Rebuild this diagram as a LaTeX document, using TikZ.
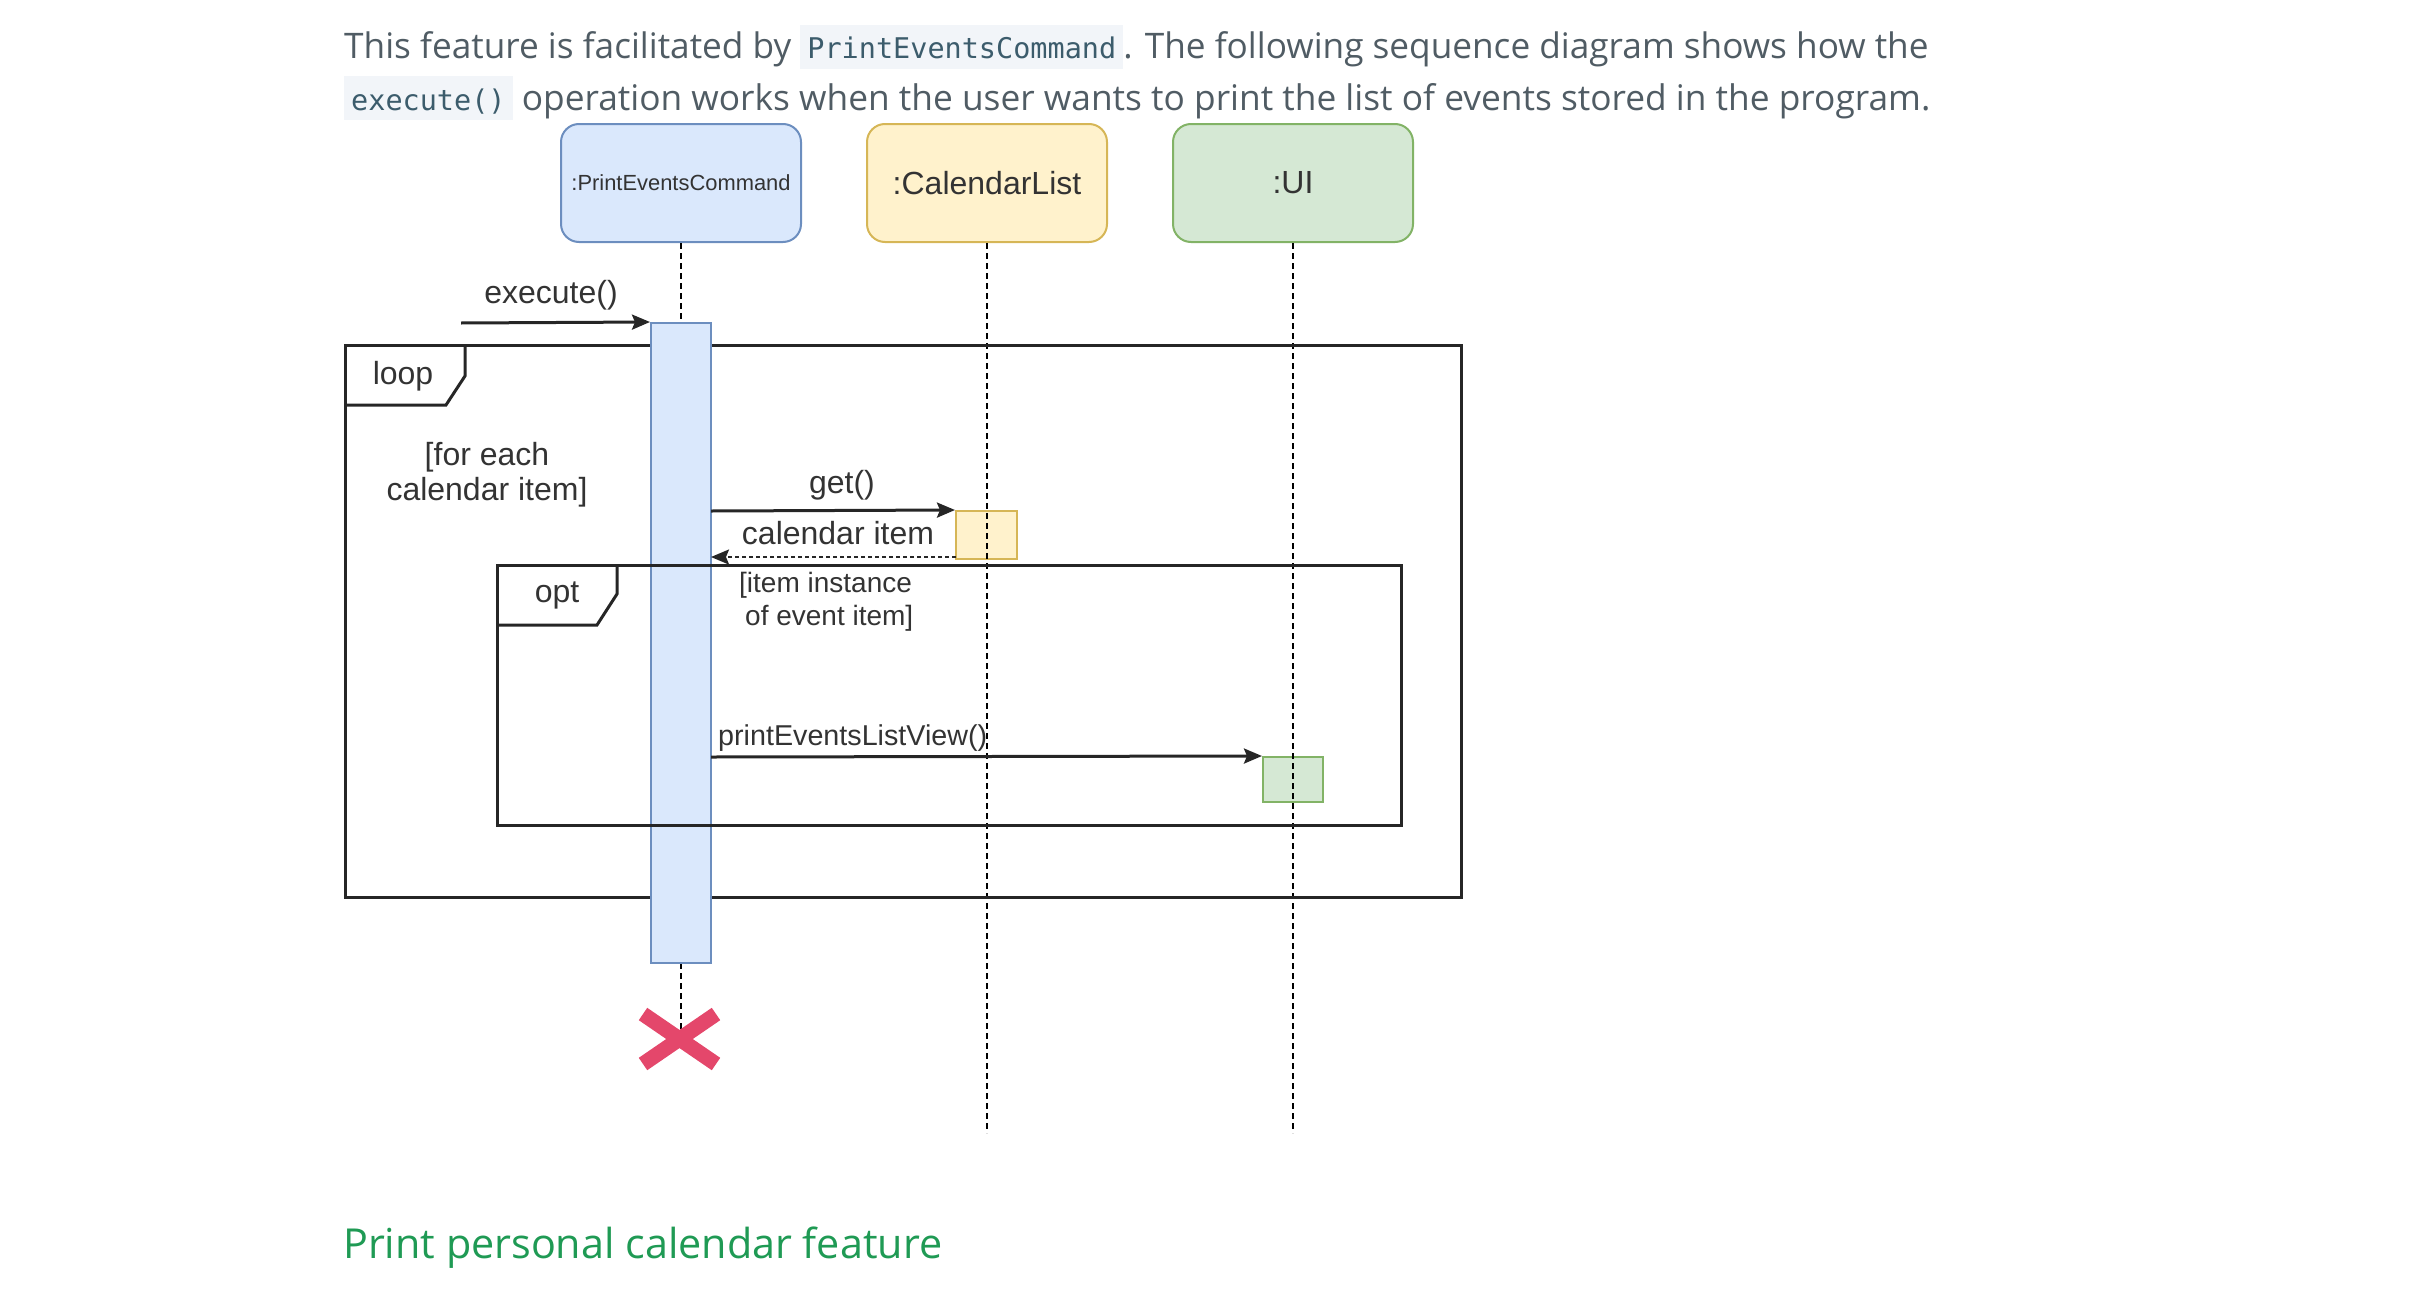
\documentclass[tikz,border=0pt]{standalone}
\usepackage{fontspec}
\usepackage{tikz}
\usetikzlibrary{arrows.meta}
\setmainfont{Open Sans}
\newfontfamily\diagfont{Liberation Sans}
\newfontfamily\codefont{DejaVu Sans Mono}

\definecolor{paratext}{HTML}{505C64}
\definecolor{codebg}{HTML}{F2F5F9}
\definecolor{codetext}{HTML}{3C5C6C}
\definecolor{headgreen}{HTML}{1F9A54}
\definecolor{blueFill}{HTML}{DAE8FC}
\definecolor{blueLine}{HTML}{6C8EBF}
\definecolor{yellowFill}{HTML}{FFF2CC}
\definecolor{yellowLine}{HTML}{D6B656}
\definecolor{greenFill}{HTML}{D5E8D4}
\definecolor{greenLine}{HTML}{82B366}
\definecolor{destroyRed}{HTML}{E4476B}
\definecolor{diagtext}{HTML}{333333}

\newcommand{\code}[1]{{\setlength{\fboxsep}{0pt}\colorbox{codebg}{\rule[-10pt]{0pt}{44pt}\hspace{7pt}\codefont\fontsize{28.5}{34}\selectfont\color{codetext}#1\hspace{7pt}}}}

\begin{document}
\begin{tikzpicture}[x=1pt,y=-1pt,
	participant/.style={draw, line width=2pt, rounded corners=18pt, minimum width=240pt, minimum height=118pt, inner sep=0pt, text=diagtext},
	lifeline/.style={line width=2pt, dash pattern=on 6pt off 4pt},
	frameline/.style={line width=3pt, draw=black!85},
	message/.style={line width=3pt, draw=black!85, -{Stealth[length=18pt,width=15pt,inset=3pt]}},
	label/.style={text=diagtext, inner sep=0pt, font=\diagfont\fontsize{32}{38}\selectfont}]
			\useasboundingbox (0,0) rectangle (2432,1290);
			% text above and below the diagram
			\node[anchor=base west, inner sep=0pt, text=paratext, font=\fontsize{35.2}{40}\selectfont] (line1) at (344,59) {This feature is facilitated by \code{PrintEventsCommand}. The following sequence diagram shows how the};
			\node[anchor=base west, inner sep=0pt, text=paratext, font=\fontsize{35.3}{40}\selectfont] (line2) at (344,110) {\code{execute()} operation works when the user wants to print the list of events stored in the program.};
			\node[anchor=base west, inner sep=0pt, text=headgreen, font=\fontsize{41.3}{50}\selectfont] (heading) at (343,1258) {Print personal calendar feature};
			% participants
			\node[participant, fill=blueFill, draw=blueLine, font=\diagfont\fontsize{21.9}{26}\selectfont] (pec) at (681,183) {:PrintEventsCommand};
			\node[participant, fill=yellowFill, draw=yellowLine, font=\diagfont\fontsize{32}{38}\selectfont] (cal) at (987,183) {:CalendarList};
			\node[participant, fill=greenFill, draw=greenLine, font=\diagfont\fontsize{32}{38}\selectfont] (ui) at (1293,183) {:UI};
			% small activation boxes
			\node[draw=yellowLine, fill=yellowFill, line width=2pt, minimum width=61pt, minimum height=48pt, inner sep=0pt] (calbox) at (986.5,535) {};
			\node[draw=greenLine, fill=greenFill, line width=2pt, minimum width=60pt, minimum height=45pt, inner sep=0pt] (uibox) at (1293,779.5) {};
			% lifelines
			\coordinate (calend) at (987,1133);
			\coordinate (uiend) at (1293,1133);
			\coordinate (destroy) at (681,1039);
			\draw[lifeline] (pec.south) -- (681,323);
			\draw[lifeline] (cal.south) -- (calend);
			\draw[lifeline] (ui.south) -- (uiend);
			\draw[lifeline] (681,963) -- (destroy);
			% loop frame
			\draw[frameline] (345,345) rectangle (1461,897);
			\draw[frameline] (345,405) -- (446,405) -- (465,376) -- (465,345);
			\node[label] (looplbl) at (403,376) {loop};
			\node[label, align=center, font=\diagfont\fontsize{32}{35}\selectfont] (loopguard) at (487,474.5) {[for each\\calendar item]};
			% activation bar
			\node[draw=blueLine, fill=blueFill, line width=2pt, minimum width=60pt, minimum height=640pt, inner sep=0pt] (bar) at (681,643) {};
			% opt frame
			\draw[frameline] (497,565) rectangle (1401,825);
			\draw[frameline] (497,625) -- (597,625) -- (617,594) -- (617,565);
			\node[label] (optlbl) at (557,595) {opt};
			\node[label, align=left, font=\diagfont\fontsize{28}{33}\selectfont, anchor=west] (optguard) at (739,601.5) {[item instance\\\hspace*{6pt}of event item]};
			% messages
			\coordinate (start) at (461,323);
			\draw[message] (start) -- (bar.north west);
			\node[label] (execlbl) at (551,295) {execute()};
			\draw[message] (711,511) -- (calbox.north west);
			\node[label] (getlbl) at (842,485) {get()};
			\draw[message, line width=2pt, dash pattern=on 4pt off 3pt] (956,557) -- (711,557);
			\node[label] (retlbl) at (838,533) {calendar item};
			\draw[message] (711,757) -- (uibox.north west);
			\node[label, anchor=west, font=\diagfont\fontsize{28.7}{34}\selectfont] (printlbl) at (718,738) {printEventsListView()};
			% destroy mark
			\draw[destroyRed, line width=15pt] (643,1014) -- (716,1064);
			\draw[destroyRed, line width=15pt] (643,1064) -- (716,1014);
			\end{tikzpicture}
\end{document}
